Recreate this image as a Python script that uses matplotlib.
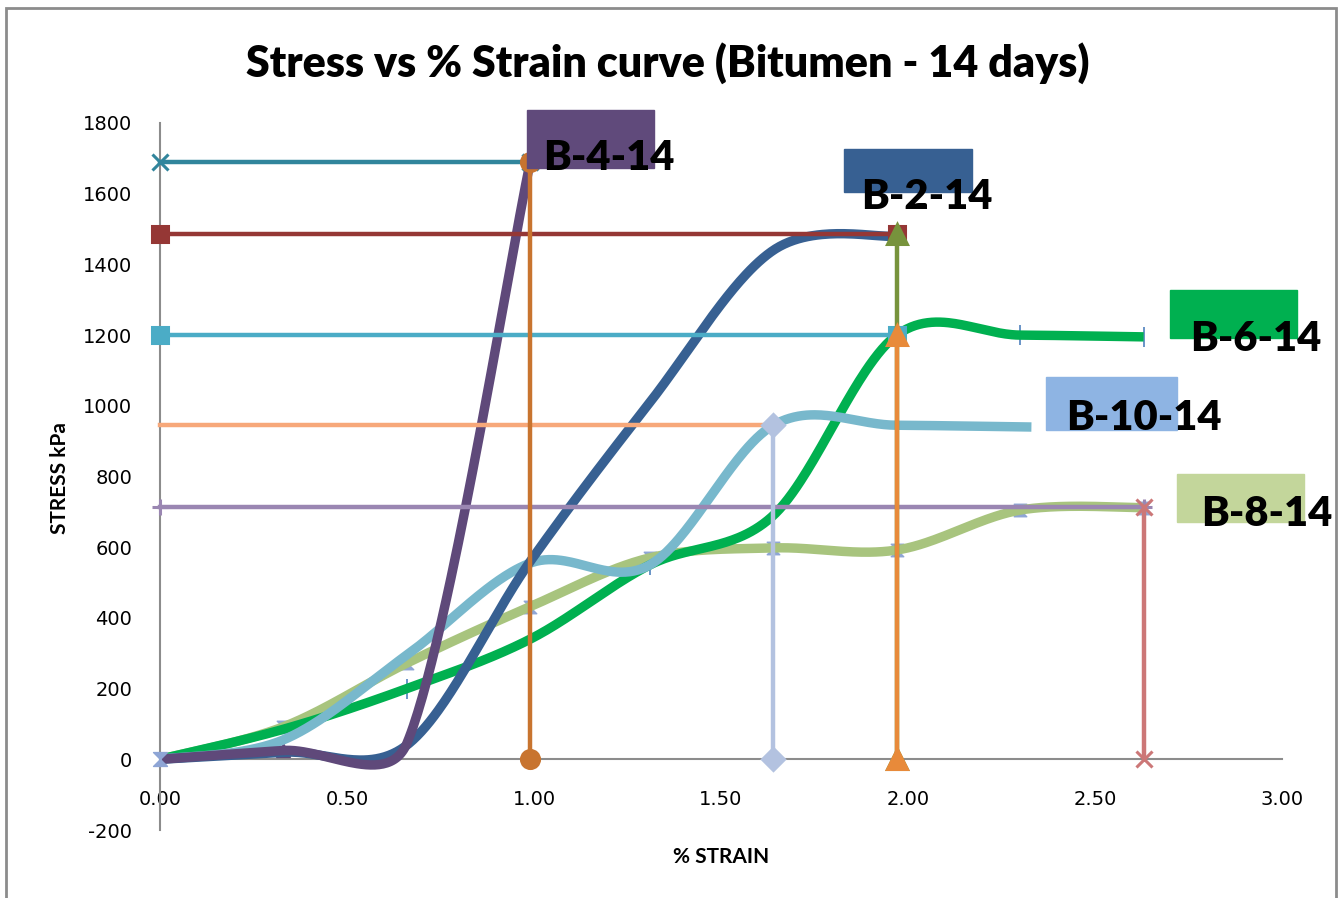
import numpy as np
import matplotlib.pyplot as plt
from matplotlib.patches import Rectangle
from matplotlib.path import Path

plt.rcParams['axes.unicode_minus'] = False

# strain (%) positions of the readings
STRAIN = [0.00, 0.33, 0.66, 0.99, 1.31, 1.64, 1.97, 2.30, 2.63]
B10_STRAIN = [0.00, 0.33, 0.66, 0.99, 1.31, 1.64, 1.97, 2.33]

# stress (kPa) per specimen
B4_STRESS = [0, 25, 45, 1690]
B2_STRESS = [0, 20, 40, 560, 1010, 1440, 1480]
B6_STRESS = [0, 85, 200, 340, 550, 690, 1200, 1200, 1195]
B10_STRESS = [0, 55, 295, 555, 550, 945, 945, 940]
B8_STRESS = [0, 92, 272, 432, 570, 598, 592, 705, 712]

# failure stress / strain guide lines
PEAK_NAMES = ['B-4-14', 'B-2-14', 'B-6-14', 'B-10-14', 'B-8-14']
PEAK_STRESS = [1690, 1485, 1200, 945, 715]
PEAK_STRAIN = [0.99, 1.97, 1.97, 1.64, 2.63]

# label boxes (x0, x1, y0, y1) and text anchor
BOX_X = [(0.98, 1.32), (1.83, 2.17), (2.70, 3.04), (2.37, 2.72), (2.72, 3.06)]
BOX_Y = [(1672, 1836), (1605, 1726), (1192, 1328), (932, 1082), (670, 808)]
TEXT_XY = [(1.20, 1700), (2.05, 1592), (2.93, 1188), (2.63, 965), (2.96, 695)]
BOX_COLORS = ['#604A7B', '#376092', '#00B050', '#8EB4E3', '#C3D69B']

XSCALE, YSCALE = 374.0, 0.354  # px per unit, used for excel-like smoothing


def excel_smooth(xs, ys, n=60, limit=0.4):
    P = np.column_stack([np.array(xs) * XSCALE, np.array(ys) * YSCALE])
    Q = np.vstack([P[0], P, P[-1]])
    out = []
    t = np.linspace(0, 1, n)[:, None]
    for i in range(len(P) - 1):
        p0, p1, p2, p3 = Q[i], Q[i + 1], Q[i + 2], Q[i + 3]
        d = np.linalg.norm(p2 - p1)
        v1 = (p2 - p0) / 6.0
        v2 = (p3 - p1) / 6.0
        for v in (v1, v2):
            nv = np.linalg.norm(v)
            if nv > d * limit and nv > 0:
                v *= (d * limit) / nv
        c1, c2 = p1 + v1, p2 - v2
        seg = (1 - t) ** 3 * p1 + 3 * (1 - t) ** 2 * t * c1 + 3 * (1 - t) * t ** 2 * c2 + t ** 3 * p2
        out.append(seg)
    out = np.vstack(out)
    return out[:, 0] / XSCALE, out[:, 1] / YSCALE


hourglass = Path([(-1, 1), (1, 1), (-1, -1), (1, -1), (-1, 1)],
                 [Path.MOVETO, Path.LINETO, Path.LINETO, Path.LINETO, Path.CLOSEPOLY])

fig = plt.figure(figsize=(13.43, 8.98), dpi=100)
ax = fig.add_axes([160 / 1343, 1 - 830 / 898, 1122 / 1343, 707 / 898])

fig.add_artist(Rectangle((6 / 1343, -0.01), 1330 / 1343, 1.01 - 8 / 898,
                         transform=fig.transFigure, fill=False, edgecolor='#8C8C8C', lw=2))

curves = [
    (STRAIN, B8_STRESS, '#A8C47E'),
    (STRAIN, B6_STRESS, '#00B050'),
    (B10_STRAIN, B10_STRESS, '#78B8CC'),
    (STRAIN, B2_STRESS, '#376092'),
    (STRAIN, B4_STRESS, '#5F497A'),
]
for xs, ys, col in curves:
    sx, sy = excel_smooth(xs[:len(ys)], ys)
    ax.plot(sx, sy, color=col, lw=6.8, solid_capstyle='butt', zorder=3)

# a few of the excel data markers that remain visible
ax.plot(STRAIN, B8_STRESS, ls='none', marker=hourglass, ms=9, color='#8EA5D5', zorder=2.5)
ax.plot(STRAIN[2:], B6_STRESS[2:], ls='none', marker='|', ms=14, mew=1.2, color='#4F81BD', zorder=2.5)
ax.plot([STRAIN[1]], [B4_STRESS[1]], ls='none', marker='^', ms=10, color='#5F497A', zorder=2.6)
ax.plot([0], [0], ls='none', marker=hourglass, ms=10, color='#8EA5D5', zorder=4, clip_on=False)

# horizontal guides (peak stress)
h_styles = [('#31859C', 'x', 11), ('#953735', 's', 11), ('#4BACC6', 's', 11),
            ('#F7A87A', None, 0), ('#9A86B2', '+', 12)]
for y, x1, (col, mk, ms) in zip(PEAK_STRESS, PEAK_STRAIN, h_styles):
    ax.plot([0, x1], [y, y], color=col, lw=3.2, marker=mk, ms=ms, mew=2.2, zorder=4, clip_on=False)

# vertical guides (strain at failure)
v_styles = [('#C8742F', 'o', 13, PEAK_STRESS[0]),
            ('#77933C', '^', 14, PEAK_STRESS[1]),
            ('#E88A3A', '^', 14, PEAK_STRESS[2]),
            ('#B3C2E0', 'D', 11, PEAK_STRESS[3]),
            ('#CC7777', 'x', 12, PEAK_STRESS[4])]
for x, (col, mk, ms, ytop) in zip(PEAK_STRAIN, v_styles):
    ax.plot([x, x], [0, ytop], color=col, lw=3.2, marker=mk, ms=ms, mew=2.2, zorder=4, clip_on=False)

# name boxes
for name, (x0, x1), (y0, y1), (tx, ty), col in zip(PEAK_NAMES, BOX_X, BOX_Y, TEXT_XY, BOX_COLORS):
    ax.add_patch(Rectangle((x0, y0), x1 - x0, y1 - y0, color=col, clip_on=False, zorder=5))
    ax.text(tx, ty, name, fontsize=30, fontweight='heavy', family='Lato',
            ha='center', va='center', clip_on=False, zorder=6)

ax.set_xlim(0, 3)
ax.set_ylim(-200, 1800)
ax.set_xticks(np.arange(0, 3.01, 0.5))
ax.set_xticklabels([f'{v:.2f}' for v in np.arange(0, 3.01, 0.5)])
ax.set_yticks(np.arange(-200, 1801, 200))
ax.tick_params(axis='both', length=0, labelsize=14)
ax.tick_params(axis='x', pad=22)
ax.tick_params(axis='y', pad=20)
for s in ('top', 'right'):
    ax.spines[s].set_visible(False)
ax.spines['bottom'].set_position(('data', 0))
for s in ('left', 'bottom'):
    ax.spines[s].set_color('#8C8C8C')
    ax.spines[s].set_linewidth(1.5)
ax.patch.set_visible(False)

fig.text(668 / 1343, 1 - 63 / 898, 'Stress vs % Strain curve (Bitumen - 14 days)',
         fontsize=31, fontweight='heavy', family='Lato', ha='center', va='center')
fig.text(721 / 1343, 1 - 857 / 898, '% STRAIN', fontsize=15, fontweight='bold',
         family='Lato', ha='center', va='center')
fig.text(60 / 1343, 1 - 478 / 898, 'STRESS kPa', fontsize=15, fontweight='bold',
         family='Lato', ha='center', va='center', rotation=90)

fig.savefig('out.png', dpi=100)
